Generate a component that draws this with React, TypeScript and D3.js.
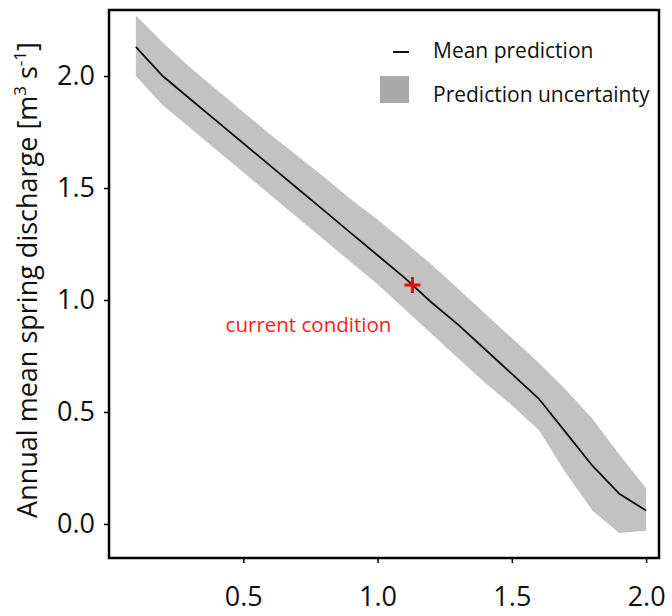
import React, { useEffect, useRef } from "react";
import { select, axisBottom, axisLeft, scaleLinear, area, line } from "d3";

// Values
const xValues = [0.1, 0.2, 0.3, 0.4, 0.5, 0.6, 0.7, 0.8, 0.9, 1.0, 1.1, 1.2, 1.3, 1.4, 1.5, 1.6, 1.7, 1.8, 1.9, 2.0];
const meanValues = [2.13, 2.0, 1.9, 1.8, 1.7, 1.6, 1.5, 1.4, 1.3, 1.2, 1.1, 0.99, 0.89, 0.78, 0.67, 0.56, 0.41, 0.26, 0.135, 0.06];
const upperValues = [2.27, 2.15, 2.04, 1.94, 1.84, 1.74, 1.645, 1.55, 1.45, 1.36, 1.26, 1.16, 1.05, 0.94, 0.83, 0.72, 0.6, 0.47, 0.31, 0.16];
const lowerValues = [2.0, 1.87, 1.77, 1.67, 1.57, 1.47, 1.37, 1.27, 1.17, 1.07, 0.96, 0.85, 0.74, 0.63, 0.53, 0.42, 0.23, 0.06, -0.04, -0.03];
const currentCondition = [1.13, 1.067];
const xTicks = [0.5, 1.0, 1.5, 2.0];
const yTicks = [0.0, 0.5, 1.0, 1.5, 2.0];

const FONT = "'Open Sans', sans-serif";

function AxisLeft({ scale, x }) {
  const ref = useRef(null);
  useEffect(() => {
    if (ref.current) {
      const g = select(ref.current);
      g.call(axisLeft(scale).tickValues(yTicks).tickFormat((d) => d.toFixed(1)).tickSize(5).tickPadding(9));
      g.select(".domain").remove();
      g.selectAll(".tick line").attr("stroke", "#000").attr("stroke-width", 1.5);
      g.selectAll(".tick text").attr("font-family", FONT).attr("font-size", 27).attr("fill", "#111");
    }
  }, [scale]);
  return <g ref={ref} transform={`translate(${x},0)`} />;
}

function AxisBottom({ scale, y }) {
  const ref = useRef(null);
  useEffect(() => {
    if (ref.current) {
      const g = select(ref.current);
      g.call(axisBottom(scale).tickValues(xTicks).tickFormat((d) => d.toFixed(1)).tickSize(5).tickPadding(24));
      g.select(".domain").remove();
      g.selectAll(".tick line").attr("stroke", "#000").attr("stroke-width", 1.5);
      g.selectAll(".tick text").attr("font-family", FONT).attr("font-size", 27).attr("fill", "#111");
    }
  }, [scale]);
  return <g ref={ref} transform={`translate(0,${y})`} />;
}

export default function App() {
  const width = 672;
  const height = 616;
  const margin = { top: 10, right: 13, bottom: 58, left: 109 };

  const scaleX = scaleLinear().domain([0, 2.048]).range([margin.left, width - margin.right]);
  const scaleY = scaleLinear().domain([-0.152, 2.295]).range([height - margin.bottom, margin.top]);

  const rows = xValues.map((x, i) => ({ x, mean: meanValues[i], lo: lowerValues[i], hi: upperValues[i] }));

  const band = area()
    .x((d) => scaleX(d.x))
    .y0((d) => scaleY(d.lo))
    .y1((d) => scaleY(d.hi));
  const meanLine = line()
    .x((d) => scaleX(d.x))
    .y((d) => scaleY(d.mean));

  const cx = scaleX(currentCondition[0]);
  const cy = scaleY(currentCondition[1]);

  return (
    <svg width={width} height={height} style={{ position: "fixed", left: 0, top: 0, background: "#fff" }}>
      {/* uncertainty band and mean line */}
      <path d={band(rows)} fill="#c2c2c2" />
      <path d={meanLine(rows)} fill="none" stroke="#111" strokeWidth={1.8} />

      {/* current condition marker */}
      <g stroke="#ff0000" strokeWidth={3}>
        <line x1={cx - 8} x2={cx + 8} y1={cy} y2={cy} />
        <line x1={cx} x2={cx} y1={cy - 8} y2={cy + 8} />
      </g>
      <text x={cx - 104} y={cy + 47} fill="#ff1a1a" fontFamily={FONT} fontSize={20.5} textAnchor="middle">
        current condition
      </text>

      {/* frame */}
      <rect
        x={margin.left}
        y={margin.top}
        width={width - margin.left - margin.right}
        height={height - margin.top - margin.bottom}
        fill="none"
        stroke="#000"
        strokeWidth={2.5}
      />

      <AxisLeft scale={scaleY} x={margin.left} />
      <AxisBottom scale={scaleX} y={height - margin.bottom} />

      {/* y axis title */}
      <text
        transform={`translate(30,280) rotate(-90)`}
        textAnchor="middle"
        dominantBaseline="middle"
        fontFamily={FONT}
        fontSize={27}
        fill="#111"
      >
        Annual mean spring discharge [m
        <tspan dy={-9} fontSize={17}>3</tspan>
        <tspan dy={9}> s</tspan>
        <tspan dy={-9} fontSize={17}>-1</tspan>
        <tspan dy={9}>]</tspan>
      </text>

      {/* legend */}
      <line x1={393} x2={409} y1={52} y2={52} stroke="#111" strokeWidth={2} />
      <text x={433} y={58} fontFamily={FONT} fontSize={21} fill="#111">Mean prediction</text>
      <rect x={380} y={76} width={29} height={27} fill="#a9a9a9" />
      <text x={433} y={102} fontFamily={FONT} fontSize={21} fill="#111">Prediction uncertainty</text>
    </svg>
  );
}
